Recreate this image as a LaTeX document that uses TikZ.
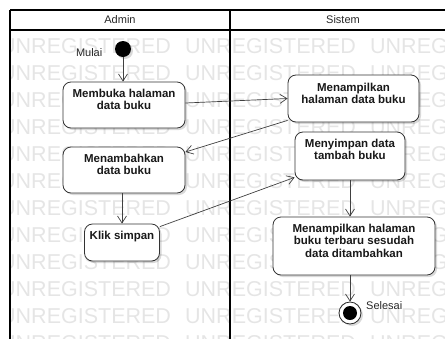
\documentclass[tikz,border=0pt]{standalone}
\usepackage{fontspec}
\setmainfont{Liberation Sans}
\usetikzlibrary{arrows.meta,shadows}
\begin{document}
\begin{tikzpicture}[x=1pt,y=-1pt,
  lane/.style={line width=1.5pt, draw=black},
  action/.style={draw=black!80, line width=0.8pt, rounded corners=8pt, fill=white,
    inner sep=0pt,
    drop shadow={shadow xshift=2pt, shadow yshift=-2pt, opacity=0.15, fill=black}},
  acttext/.style={anchor=north, align=center, inner sep=0pt, text=black!90,
    font=\fontsize{11.5}{12.5}\selectfont\bfseries},
  flow/.style={draw=black!75, line width=0.7pt, -{Straight Barb[length=7pt,width=9pt]}},
  wmtext/.style={text=black!10, font=\fontsize{21.5}{21.5}\selectfont, anchor=base west, inner sep=0pt},
  lbl/.style={font=\fontsize{11}{13}\selectfont, inner sep=0pt, text=black!85}
]
\useasboundingbox (0,0) rectangle (445,338);
\clip (0,0) rectangle (445,338);

% background watermark rows inside the swimlanes
\begin{scope}
  \clip (10,30) rectangle (445,338);
  \foreach \r in {0,...,11} {
    \foreach \c in {0,1,2} {
      \node[wmtext] (wm-\r-\c) at (\c*185, 53.2+\r*27) {UNREGISTERED};
    }
  }
\end{scope}

% swimlane frame
\draw[lane] (10,10) -- (470,10);
\draw[lane] (10,30) -- (470,30);
\draw[lane] (10,10) -- (10,350);
\draw[lane] (230,10) -- (230,350);
\node[lbl] (hadmin) at (120,20) {Admin};
\node[lbl] (hsistem) at (343,20) {Sistem};

% initial and final states
\node[circle, fill=black, minimum size=16pt, inner sep=0pt,
  drop shadow={shadow xshift=2pt, shadow yshift=-2pt, opacity=0.15, fill=black}] (start) at (123,49) {};
\node[lbl, anchor=east] (startlbl) at (102.5,53) {Mulai};

\node[circle, draw=black!85, line width=0.8pt, fill=white, minimum size=22pt, inner sep=0pt,
  drop shadow={shadow xshift=2pt, shadow yshift=-2pt, opacity=0.15, fill=black}] (stop) at (350,313) {};
\node[circle, fill=black, minimum size=14pt, inner sep=0pt] (stopdot) at (stop.center) {};
\node[lbl, anchor=west] (stoplbl) at (366,306) {Selesai};

% actions
\node[action, minimum width=122pt, minimum height=46pt] (b1) at (124,105) {};
\node[acttext] (t1) at ([yshift=-7pt]b1.north) {Membuka halaman\\data buku};

\node[action, minimum width=131pt, minimum height=47pt] (b2) at (353.5,98.5) {};
\node[acttext] (t2) at ([yshift=-8pt]b2.north) {Menampilkan\\halaman data buku};

\node[action, minimum width=122pt, minimum height=46pt] (b3) at (124,170) {};
\node[acttext] (t3) at ([yshift=-7pt]b3.north) {Menambahkan\\data buku};

\node[action, minimum width=110pt, minimum height=48pt] (b4) at (350,156) {};
\node[acttext] (t4) at ([yshift=-7pt]b4.north) {Menyimpan data\\tambah buku};

\node[action, minimum width=75pt, minimum height=37pt] (b5) at (122,242.5) {};
\node[acttext] (t5) at ([yshift=-7pt]b5.north) {Klik simpan};

\node[action, minimum width=162pt, minimum height=58pt] (b6) at (354,246) {};
\node[acttext] (t6) at ([yshift=-7pt]b6.north) {Menampilkan halaman\\buku terbaru sesudah\\data ditambahkan};

% control flows
\draw[flow] (start.south) -- (start.south |- b1.north);
\draw[flow] ([yshift=2pt]b1.east) -- (b2.west);
\draw[flow] ([yshift=2pt]b2.south west) -- ([yshift=18pt]b3.east);
\draw[flow] (b3.south -| b5.north) -- (b5.north);
\draw[flow] ([yshift=-3pt]b5.north east) -- ([yshift=3pt]b4.south west);
\draw[flow] (b4.south) -- (b4.south |- b6.north);
\draw[flow] (stop.north |- b6.south) -- (stop.north);
\end{tikzpicture}
\end{document}
